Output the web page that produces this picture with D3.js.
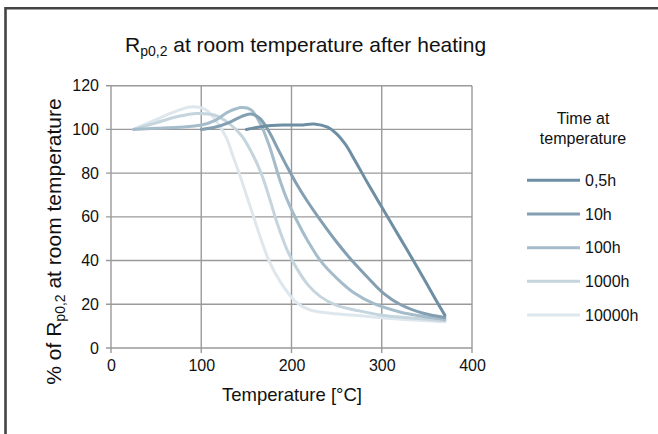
<!DOCTYPE html>
<html><head><meta charset="utf-8">
<script src="https://cdn.jsdelivr.net/npm/d3@7/dist/d3.min.js"></script>
<style>body{margin:0;background:#fff}svg{display:block}text{font-family:"Liberation Sans",Arial,sans-serif;fill:#111}</style>
</head><body><svg id="c" width="658" height="434"></svg>
<script>
const seriesNames = ["0,5h","10h","100h","1000h","10000h"];
const seriesColors = ["#6e8fa3","#839fb1","#a5bccb","#c5d5de","#dee7ed"];
const s05h = [[150,100],[170,101.5],[190,102],[210,102],[225,102.5],[240,101],[250,98],[260,93],[270,86],[285,75],[300,64.5],[320,50.5],[340,36.5],[360,22],[370,15]];
const s10h = [[100,100],[115,101],[130,103],[145,106],[155,107],[165,105],[175,99],[185,91],[195,83],[205,75.5],[217,67.5],[232,58.5],[250,48.5],[267,40],[285,32],[302,25],[320,20],[345,16],[370,14]];
const s100h = [[25,100],[50,100.5],[75,101],[100,102],[115,104],[130,108],[145,110],[155,109],[165,103],[175,93],[187,77],[195,68],[205,59],[218,49],[232,40],[250,32],[270,25],[290,20.5],[320,16.5],[345,14.5],[370,13]];
const s1000h = [[25,100],[50,103],[75,106],[95,107.3],[115,106.5],[130,103],[145,97],[160,86],[169,77],[176,68],[185,56],[195,45],[205,37],[218,29],[232,23.5],[250,19.5],[275,17],[300,15],[340,13.5],[370,12.5]];
const s10000h = [[25,100],[50,104.5],[70,108],[88,110.3],[105,109],[118,103],[128,96],[135,88],[142,80],[150,70],[158,60],[166,50],[175,40],[188,30],[205,21],[220,17.5],[240,16],[270,15],[310,13.5],[370,12]];
const seriesData = [s05h,s10h,s100h,s1000h,s10000h];
const xTicks = [0,100,200,300,400];
const yTicks = [0,20,40,60,80,100,120];

const svg = d3.select("#c");
svg.append("path").attr("d","M5.5,434 V8.3 H658").attr("fill","none").attr("stroke","#444").attr("stroke-width",2.6);

const x = d3.scaleLinear().domain([0,400]).range([111,472]);
const y = d3.scaleLinear().domain([0,120]).range([348,85.7]);

const grid = svg.append("g");
grid.selectAll(".gy").data(yTicks).join("line")
  .attr("x1",x(0)-5).attr("x2",x(400)).attr("y1",d=>y(d)).attr("y2",d=>y(d))
  .attr("stroke","#9a9a9a").attr("stroke-width",1.4);
grid.selectAll(".gx").data(xTicks).join("line")
  .attr("y1",y(0)+5).attr("y2",y(120)).attr("x1",d=>x(d)).attr("x2",d=>x(d))
  .attr("stroke","#9a9a9a").attr("stroke-width",1.4);

const xAxis = d3.axisBottom(x).tickValues(xTicks).tickSize(0).tickPadding(12);
const gx = svg.append("g").attr("transform",`translate(0,${y(0)})`).call(xAxis);
gx.select(".domain").remove();
gx.selectAll("text").style("font-size","16px").attr("fill","#111");
const yAxis = d3.axisLeft(y).tickValues(yTicks).tickSize(0).tickPadding(12);
const gy = svg.append("g").attr("transform",`translate(${x(0)},0)`).call(yAxis);
gy.select(".domain").remove();
gy.selectAll("text").style("font-size","16px").attr("fill","#111");

const line = d3.line().x(d=>x(d[0])).y(d=>y(d[1])).curve(d3.curveCatmullRom.alpha(0.5));
for (let i = seriesData.length-1; i>=0; i--) {
  svg.append("path").datum(seriesData[i]).attr("d",line).attr("fill","none")
    .attr("stroke",seriesColors[i]).attr("stroke-width",3).attr("stroke-linecap","round");
}

const t = svg.append("text").attr("x",125).attr("y",52).style("font-size","21px");
t.append("tspan").text("R");
t.append("tspan").attr("dy",4).style("font-size","14px").text("p0,2");
t.append("tspan").attr("dy",-4).text(" at room temperature after heating");

svg.append("text").attr("x",292).attr("y",401).attr("text-anchor","middle").style("font-size","18.5px").text("Temperature [°C]");
const yt = svg.append("text").attr("transform","translate(61,241.5) rotate(-90)").attr("text-anchor","middle").style("font-size","21px");
yt.append("tspan").text("% of R");
yt.append("tspan").attr("dy",4).style("font-size","14px").text("p0,2");
yt.append("tspan").attr("dy",-4).text(" at room temperature");

svg.append("text").attr("x",583).attr("y",124).attr("text-anchor","middle").style("font-size","16px").text("Time at");
svg.append("text").attr("x",583).attr("y",144).attr("text-anchor","middle").style("font-size","16px").text("temperature");
const ly = d3.scalePoint().domain(seriesNames).range([180.3,315]);
seriesNames.forEach((n,i)=>{
  svg.append("line").attr("x1",527).attr("x2",580).attr("y1",ly(n)).attr("y2",ly(n))
    .attr("stroke",seriesColors[i]).attr("stroke-width",3);
  svg.append("text").attr("x",585).attr("y",ly(n)+5.8).style("font-size","16px").text(n);
});
</script></body></html>
